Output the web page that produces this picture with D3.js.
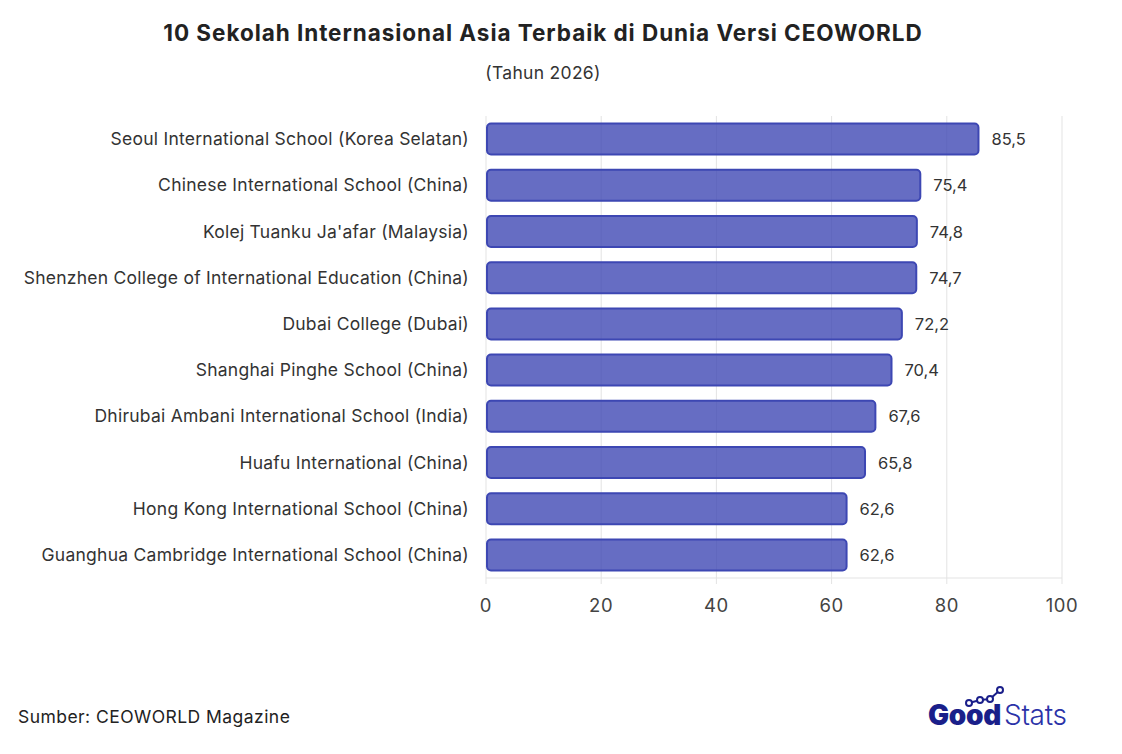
<!DOCTYPE html>
<html><head><meta charset="utf-8">
<script src="https://cdn.jsdelivr.net/npm/d3@7"></script>
<style>body{margin:0;background:#fff;font-family:Inter,"Open Sans",sans-serif;}</style>
</head><body>
<svg id="c" width="1122" height="754"></svg>
<script>
const categories = [
  "Seoul International School (Korea Selatan)",
  "Chinese International School (China)",
  "Kolej Tuanku Ja'afar (Malaysia)",
  "Shenzhen College of International Education (China)",
  "Dubai College (Dubai)",
  "Shanghai Pinghe School (China)",
  "Dhirubai Ambani International School (India)",
  "Huafu International (China)",
  "Hong Kong International School (China)",
  "Guanghua Cambridge International School (China)"
];
const values = [85.5, 75.4, 74.8, 74.7, 72.2, 70.4, 67.6, 65.8, 62.6, 62.6];
const xTicks = [0, 20, 40, 60, 80, 100];
const title = "10 Sekolah Internasional Asia Terbaik di Dunia Versi CEOWORLD";
const subtitle = "(Tahun 2026)";
const source = "Sumber: CEOWORLD Magazine";

const svg = d3.select("#c");
const m = {left: 486, right: 1062, top: 116, bottom: 578};
const x = d3.scaleLinear().domain([0, 100]).range([m.left, m.right]);
const y = d3.scaleBand().domain(categories).range([m.top, m.bottom]).paddingInner(0.33).paddingOuter(0.165);

svg.append("text").attr("x", 543).attr("y", 41).attr("text-anchor", "middle")
  .attr("font-size", 22.5).attr("font-weight", 700).attr("letter-spacing", 0.95).attr("fill", "#222").text(title);
svg.append("text").attr("x", 543).attr("y", 79).attr("text-anchor", "middle")
  .attr("font-size", 17.5).attr("letter-spacing", 0.3).attr("fill", "#333").text(subtitle);

// grid
svg.append("g").selectAll("line").data(xTicks).join("line")
  .attr("x1", d => x(d)).attr("x2", d => x(d)).attr("y1", m.top).attr("y2", m.bottom + 6)
  .attr("stroke", "#e3e3e3").attr("stroke-width", 1);
svg.append("line").attr("x1", m.left).attr("x2", m.right).attr("y1", m.bottom).attr("y2", m.bottom)
  .attr("stroke", "#e3e3e3");

// ticks
svg.append("g").selectAll("text").data(xTicks).join("text")
  .attr("x", d => x(d)).attr("y", 612).attr("text-anchor", "middle")
  .attr("font-size", 18.5).attr("letter-spacing", 0.6).attr("fill", "#444").text(d => d);

// bars
svg.append("g").selectAll("rect").data(values).join("rect")
  .attr("x", x(0) + 1).attr("y", (d, i) => y(categories[i]))
  .attr("width", d => x(d) - x(0) - 1).attr("height", y.bandwidth())
  .attr("rx", 4).attr("fill", "rgba(64,72,180,0.8)").attr("stroke", "#3d47b3").attr("stroke-width", 2);

// value labels
svg.append("g").selectAll("text").data(values).join("text")
  .attr("x", d => x(d) + 13).attr("y", (d, i) => y(categories[i]) + y.bandwidth() / 2 + 6)
  .attr("font-size", 16.5).attr("fill", "#333").text(d => d.toFixed(1).replace(".", ","));

// category labels
svg.append("g").selectAll("text").data(categories).join("text")
  .attr("x", 469).attr("y", d => y(d) + y.bandwidth() / 2 + 6).attr("text-anchor", "end")
  .attr("font-size", 17.5).attr("letter-spacing", 0.25).attr("fill", "#333").text(d => d);

svg.append("text").attr("x", 18).attr("y", 723).attr("font-size", 17.5).attr("letter-spacing", 0.45).attr("fill", "#222").text(source);

// logo
const lg = svg.append("g");
lg.append("text").attr("x", 928).attr("y", 725).attr("font-size", 28).attr("font-weight", 900)
  .attr("letter-spacing", -0.3).attr("fill", "#1a1f8a").text("Good");
lg.append("text").attr("x", 1004).attr("y", 725).attr("font-size", 28).attr("font-weight", 300)
  .attr("letter-spacing", -0.3).attr("fill", "#2b32a8").text("Stats");
const pts = [[969, 703], [980, 700], [990, 699], [1000, 690]];
lg.append("path").attr("d", d3.line()(pts)).attr("fill", "none").attr("stroke", "#1a1f8a").attr("stroke-width", 2);
lg.selectAll("circle").data(pts).join("circle").attr("cx", d => d[0]).attr("cy", d => d[1]).attr("r", 3)
  .attr("fill", "#fff").attr("stroke", "#1a1f8a").attr("stroke-width", 2);
</script>
</body></html>
